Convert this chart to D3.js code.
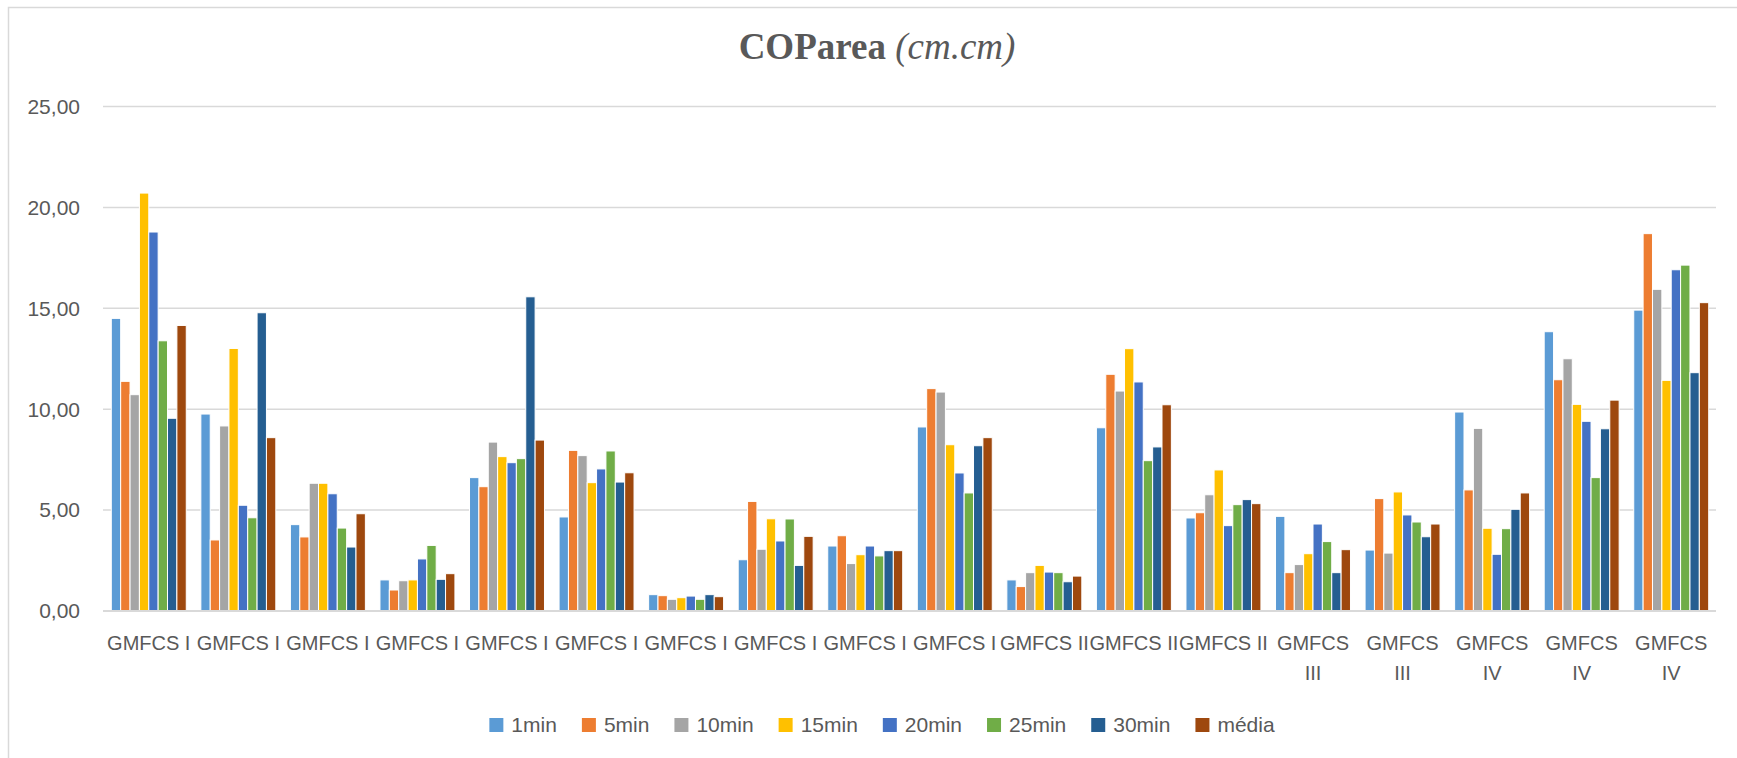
<!DOCTYPE html>
<html>
<head>
<meta charset="utf-8">
<script src="https://cdn.jsdelivr.net/npm/d3@7"></script>
<style>
  html, body { margin: 0; padding: 0; background: #fff; }
  svg { display: block; }
</style>
</head>
<body>
<svg id="chart" width="1737" height="758"></svg>
<script>
const categories = [
  "GMFCS I","GMFCS I","GMFCS I","GMFCS I","GMFCS I","GMFCS I","GMFCS I","GMFCS I","GMFCS I","GMFCS I",
  "GMFCS II","GMFCS II","GMFCS II",
  "GMFCS III","GMFCS III",
  "GMFCS IV","GMFCS IV","GMFCS IV"
];
const seriesNames = ["1min","5min","10min","15min","20min","25min","30min","média"];
const seriesColors = ["#5B9BD5","#ED7D31","#A5A5A5","#FFC000","#4472C4","#70AD47","#255E91","#9E480E"];

const s1min  = [14.50, 9.76, 4.28, 1.54, 6.61, 4.66, 0.81, 2.54, 3.22, 9.12, 1.54, 9.08, 4.61, 4.69, 3.02, 9.86, 13.84, 14.91];
const s5min  = [11.38, 3.52, 3.67, 1.04, 6.16, 7.96, 0.76, 5.43, 3.73, 11.02, 1.21, 11.73, 4.87, 1.90, 5.57, 6.00, 11.46, 18.70];
const s10min = [10.72, 9.17, 6.33, 1.50, 8.37, 7.70, 0.58, 3.06, 2.35, 10.85, 1.90, 10.90, 5.76, 2.30, 2.87, 9.05, 12.50, 15.94];
const s15min = [20.71, 13.01, 6.33, 1.54, 7.65, 6.36, 0.66, 4.57, 2.79, 8.24, 2.26, 13.00, 6.99, 2.84, 5.90, 4.10, 10.24, 11.43];
const s20min = [18.78, 5.24, 5.81, 2.58, 7.35, 7.04, 0.74, 3.47, 3.22, 6.84, 1.93, 11.35, 4.23, 4.31, 4.76, 2.81, 9.40, 16.91];
const s25min = [13.39, 4.62, 4.11, 3.25, 7.55, 7.93, 0.58, 4.56, 2.73, 5.85, 1.90, 7.45, 5.27, 3.44, 4.41, 4.08, 6.61, 17.14];
const s30min = [9.55, 14.78, 3.17, 1.57, 15.57, 6.39, 0.81, 2.26, 2.99, 8.19, 1.45, 8.13, 5.52, 1.90, 3.68, 5.04, 9.03, 11.81];
const sMedia = [14.15, 8.59, 4.82, 1.85, 8.47, 6.85, 0.71, 3.70, 2.99, 8.59, 1.73, 10.22, 5.32, 3.04, 4.31, 5.85, 10.45, 15.28];

const yTicks = [0, 5, 10, 15, 20, 25];
const yTickLabels = ["0,00", "5,00", "10,00", "15,00", "20,00", "25,00"];

const seriesValues = [s1min, s5min, s10min, s15min, s20min, s25min, s30min, sMedia];

const svg = d3.select("#chart");
const textColor = "#595959";
const gridColor = "#D9D9D9";
const font = "'Liberation Sans', Arial, sans-serif";

// chart area border
svg.append("rect")
  .attr("x", 8.5).attr("y", 7.5).attr("width", 1760).attr("height", 780)
  .attr("fill", "none").attr("stroke", gridColor).attr("stroke-width", 1.5);

// Title
const title = svg.append("text")
  .attr("x", 877).attr("y", 59)
  .attr("text-anchor", "middle")
  .attr("font-family", "'Liberation Serif', 'Times New Roman', serif")
  .attr("font-size", 37)
  .attr("fill", textColor);
title.append("tspan").attr("font-weight", "bold").text("COParea ");
title.append("tspan").attr("font-style", "italic").text("(cm.cm)");

// Scales
const x0 = d3.scaleBand()
  .domain(d3.range(categories.length))
  .range([104, 1716])
  .paddingInner(0.163)
  .paddingOuter(0.0815);

const x1 = d3.scaleBand()
  .domain(d3.range(seriesNames.length))
  .range([0, x0.bandwidth()])
  .padding(0);

const y = d3.scaleLinear().domain([0, 25]).range([611, 106.5]);

// Gridlines
svg.append("g")
  .selectAll("line")
  .data(yTicks.filter(d => d > 0))
  .join("line")
  .attr("x1", 103).attr("x2", 1716)
  .attr("y1", d => y(d)).attr("y2", d => y(d))
  .attr("stroke", gridColor).attr("stroke-width", 1.5);

// Y tick labels
svg.append("g")
  .selectAll("text")
  .data(yTicks)
  .join("text")
  .attr("x", 80)
  .attr("y", d => y(d))
  .attr("dy", "0.35em")
  .attr("text-anchor", "end")
  .attr("font-family", font)
  .attr("font-size", 21)
  .attr("fill", textColor)
  .text((d, i) => yTickLabels[i]);

// Bars
const groups = svg.append("g")
  .selectAll("g")
  .data(categories.map((c, i) => i))
  .join("g")
  .attr("transform", i => `translate(${x0(i)},0)`);

groups.selectAll("rect")
  .data(i => seriesValues.map((vals, s) => ({ s, v: vals[i] })))
  .join("rect")
  .attr("x", d => x1(d.s))
  .attr("y", d => y(d.v))
  .attr("width", x1.bandwidth())
  .attr("height", d => y(0) - y(d.v))
  .attr("fill", d => seriesColors[d.s])
  .attr("stroke", "#fff")
  .attr("stroke-width", 1);

// Baseline axis
svg.append("line")
  .attr("x1", 103).attr("x2", 1716)
  .attr("y1", y(0)).attr("y2", y(0))
  .attr("stroke", gridColor).attr("stroke-width", 2);

// Category labels with wrapping when wider than a step
const catG = svg.append("g");
categories.forEach((c, i) => {
  const cx = x0(i) + x0.bandwidth() / 2;
  const t = catG.append("text")
    .attr("x", cx).attr("y", 650)
    .attr("text-anchor", "middle")
    .attr("font-family", font)
    .attr("font-size", 20)
    .attr("fill", textColor)
    .text(c);
  const w = t.node().getComputedTextLength();
  if (w > x0.step() + 2) {
    const words = c.split(" ");
    t.text(null);
    words.forEach((wd, k) => {
      t.append("tspan").attr("x", cx).attr("y", 650 + k * 30).text(wd);
    });
  }
});

// Legend
const legend = svg.append("g");
let lx = 0;
const items = [];
seriesNames.forEach((name, i) => {
  const g = legend.append("g");
  g.append("rect")
    .attr("x", lx).attr("y", 718).attr("width", 14).attr("height", 14)
    .attr("fill", seriesColors[i]);
  const t = g.append("text")
    .attr("x", lx + 22).attr("y", 725)
    .attr("dy", "0.35em")
    .attr("font-family", font)
    .attr("font-size", 21)
    .attr("fill", textColor)
    .text(name);
  const w = t.node().getComputedTextLength();
  items.push(lx + 22 + w);
  lx += 22 + w + 25;
});
const legendWidth = items[items.length - 1];
legend.attr("transform", `translate(${882 - legendWidth / 2},0)`);
</script>
</body>
</html>
